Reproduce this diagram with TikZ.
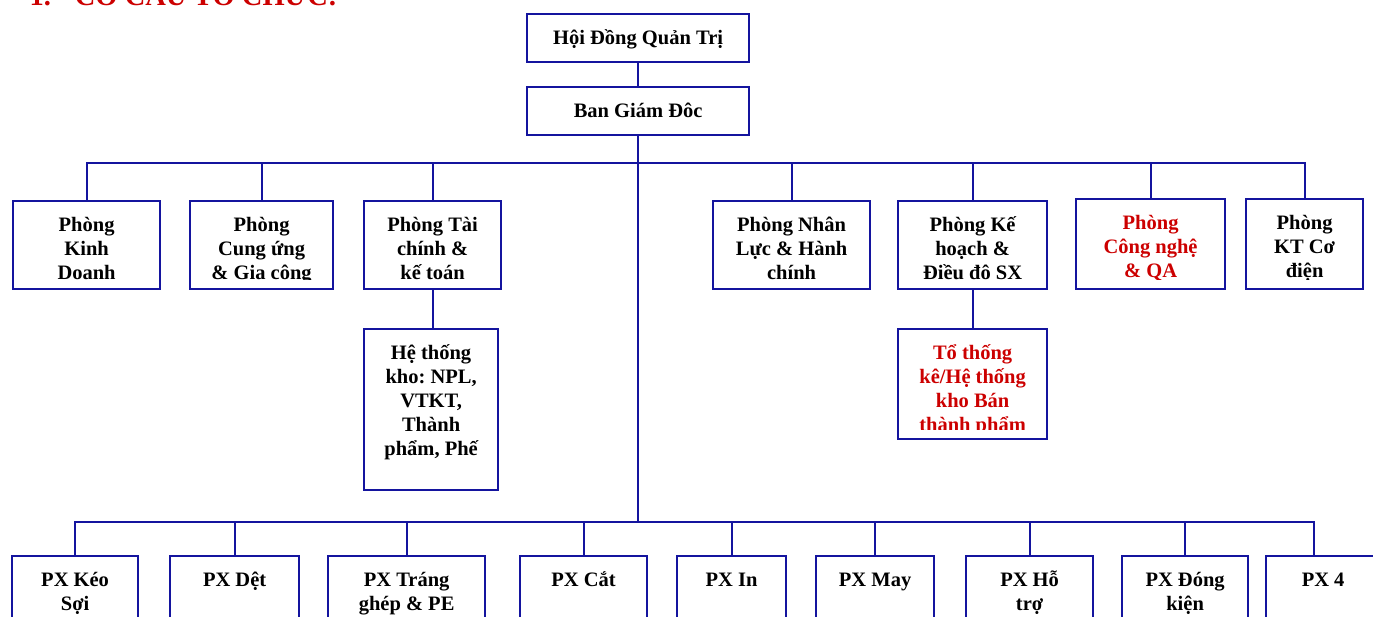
\documentclass[tikz,border=0pt]{standalone}
\usepackage{fontspec}
\setmainfont{Liberation Serif}
\frenchspacing
\definecolor{orgblue}{RGB}{20,20,158}
\definecolor{orgred}{RGB}{204,0,0}
\tikzset{
  boxtext/.store in=\orgtext, boxtext={},
  txtcol/.store in=\orgcol, txtcol=black,
}

\begin{document}
\begin{tikzpicture}[x=1pt,y=-1pt]
	\tikzstyle{orgbox}=[draw=orgblue,line width=2.2pt,inner sep=0pt,anchor=north west,
		path picture={
			\clip ([yshift=10pt]path picture bounding box.south west) rectangle (path picture bounding box.north east);
			\node[anchor=base,inner sep=0pt,text=\orgcol,font=\bfseries\fontsize{20.5}{24}\selectfont]
				at ([yshift=-30pt]path picture bounding box.north) {\begin{tabular}[t]{@{}c@{}}\orgtext\end{tabular}};
		}]
	\tikzstyle{link}=[draw=orgblue,line width=2.2pt]
	\useasboundingbox (0,0) rectangle (1373,616);

	\node[anchor=base west,text=orgred,font=\bfseries\fontsize{28.5}{32}\selectfont] (title) at (26,5) {1.\hspace{24pt}CƠ CẤU TỔ CHỨC:};

	% top
	\node[orgbox,minimum width=222,minimum height=48,boxtext={Hội Đồng Quản Trị}] (hdqt) at (526,13) {};
	\node[orgbox,minimum width=222,minimum height=48,boxtext={Ban Giám Đôc}] (bgd) at (526,86) {};

	% phong ban
	\node[orgbox,minimum width=147,minimum height=88,boxtext={Phòng\\Kinh\\Doanh}] (kd) at (12,200) {};
	\node[orgbox,minimum width=143,minimum height=88,boxtext={Phòng\\Cung ứng\\ \& Gia công}] (cu) at (189,200) {};
	\node[orgbox,minimum width=137,minimum height=88,boxtext={Phòng Tài\\chính \&\\kế toán}] (tc) at (363,200) {};
	\node[orgbox,minimum width=157,minimum height=88,boxtext={Phòng Nhân\\Lực \& Hành\\chính}] (nl) at (712,200) {};
	\node[orgbox,minimum width=149,minimum height=88,boxtext={Phòng Kế\\hoạch \&\\Điều đô SX}] (kh) at (897,200) {};
	\node[orgbox,minimum width=149,minimum height=90,txtcol=orgred,boxtext={Phòng\\Công nghệ\\ \& QA}] (cn) at (1075,198) {};
	\node[orgbox,minimum width=117,minimum height=90,boxtext={Phòng\\KT Cơ\\điện}] (kt) at (1245,198) {};

	\node[orgbox,minimum width=134,minimum height=161,boxtext={Hệ thống\\kho: NPL,\\VTKT,\\Thành\\phẩm, Phế}] (kho) at (363,328) {};
	\node[orgbox,minimum width=149,minimum height=110,txtcol=orgred,boxtext={Tổ thống\\kê/Hệ thống\\kho Bán\\thành phẩm}] (tk) at (897,328) {};

	% phan xuong
	\node[orgbox,minimum width=126,minimum height=80,boxtext={PX Kéo\\Sợi}] (ks) at (11,555) {};
	\node[orgbox,minimum width=129,minimum height=80,boxtext={PX Dệt}] (det) at (169,555) {};
	\node[orgbox,minimum width=157,minimum height=80,boxtext={PX Tráng\\ghép \& PE}] (tr) at (327,555) {};
	\node[orgbox,minimum width=127,minimum height=80,boxtext={PX Cắt}] (cat) at (519,555) {};
	\node[orgbox,minimum width=109,minimum height=80,boxtext={PX In}] (pxin) at (676,555) {};
	\node[orgbox,minimum width=118,minimum height=80,boxtext={PX May}] (may) at (815,555) {};
	\node[orgbox,minimum width=127,minimum height=80,boxtext={PX Hỗ\\trợ}] (ht) at (965,555) {};
	\node[orgbox,minimum width=126,minimum height=80,boxtext={PX Đóng\\kiện}] (dk) at (1121,555) {};
	\node[orgbox,minimum width=114,minimum height=80,boxtext={PX 4}] (px4) at (1265,555) {};

	\coordinate (bus1) at (637,163);
	\coordinate (bus2) at (637,522);

	% lines
	\draw[link] (hdqt) -- (bgd);
	\draw[link] (bgd.south) -- (bgd.south |- bus2);
	\foreach \n in {kd,cu,tc,nl,kh,cn,kt}
		\draw[link] (\n.north) |- (bus1);
	\draw[link] (tc.south) -- (tc.south |- kho.north);
	\draw[link] (kh.south) -- (kh.south |- tk.north);
	\foreach \n in {ks,det,tr,cat,pxin,may,ht,dk}
		\draw[link] (\n.north) |- (bus2);
	\draw[link] ([xshift=49pt]px4.north west) |- (bus2);
\end{tikzpicture}
\end{document}
